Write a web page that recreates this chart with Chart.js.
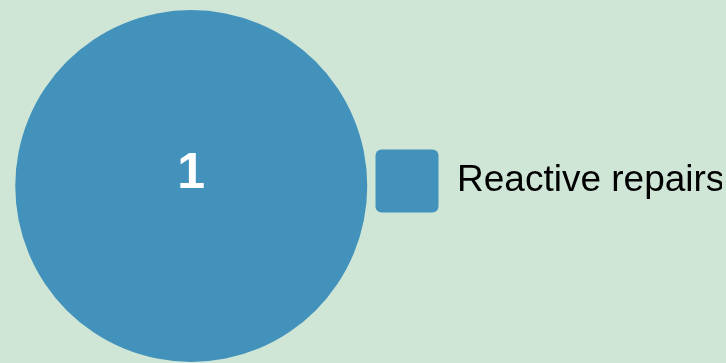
<!DOCTYPE html>
<html>
<head>
<meta charset="utf-8">
<script src="https://cdn.jsdelivr.net/npm/chart.js@4"></script>
<style>
  html, body { margin: 0; padding: 0; background: #cfe6d6; }
  #wrap { width: 726px; height: 363px; }
</style>
</head>
<body>
<div id="wrap"><canvas id="pieChart"></canvas></div>
<script>
const categories = ["Reactive repairs"];
const values = [1];
const colors = ["#4292bb"];

// draws the value in white on top of each slice
const sliceLabels = {
  id: "sliceLabels",
  afterDatasetsDraw(chart) {
    const ctx = chart.ctx;
    const meta = chart.getDatasetMeta(0);
    ctx.save();
    ctx.fillStyle = "#ffffff";
    ctx.font = "bold 50px 'Liberation Sans', Arial, sans-serif";
    ctx.textAlign = "center";
    ctx.textBaseline = "middle";
    meta.data.forEach((arc, i) => {
      let pos;
      if (arc.endAngle - arc.startAngle >= Math.PI * 2 - 0.001) {
        pos = { x: arc.x, y: arc.y };
      } else {
        pos = arc.tooltipPosition();
      }
      ctx.fillText(String(values[i]), pos.x, pos.y - 12);
    });
    ctx.restore();
  },
};

// nudge the legend a little up/left to sit like the original
const legendNudge = {
  id: "legendNudge",
  afterLayout(chart) {
    const l = chart.legend;
    if (!l) return;
    l.top -= 5;
    l.bottom -= 5;
    l.left -= 4;
    l.right -= 4;
  },
};

new Chart(document.getElementById("pieChart").getContext("2d"), {
  type: "pie",
  data: {
    labels: categories,
    datasets: [
      {
        data: values,
        backgroundColor: colors,
        borderWidth: 0,
      },
    ],
  },
  options: {
    responsive: true,
    maintainAspectRatio: false,
    animation: false,
    layout: { padding: { left: 13, top: 10, bottom: 1 } },
    plugins: {
      tooltip: { enabled: false },
      legend: {
        position: "right",
        labels: {
          boxWidth: 63,
          boxHeight: 63,
          useBorderRadius: true,
          borderRadius: 6,
          color: "#000000",
          font: { family: "'Liberation Sans', Arial, sans-serif", size: 37 },
        },
      },
    },
  },
  plugins: [sliceLabels, legendNudge],
});
</script>
</body>
</html>
